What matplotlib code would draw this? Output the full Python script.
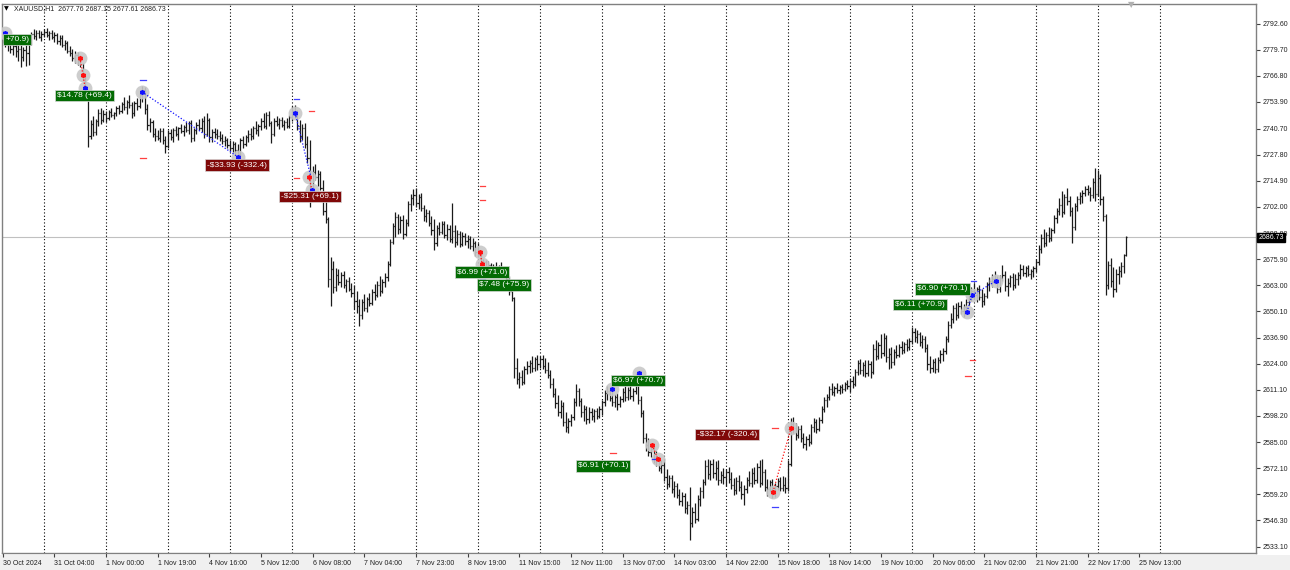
import numpy as np
import matplotlib
matplotlib.use("Agg")
import matplotlib.pyplot as plt
from matplotlib.transforms import blended_transform_factory

plt.rcParams['font.family'] = ['Liberation Sans', 'DejaVu Sans']

# XAUUSD H1 bars, one row per trading day
opens = [
    2787, 2785, 2782.5, 2784, 2780, 2781.5, 2779, 2780, 2776, 2779.5, 2778, 2783, 2787.5, 2786.5, 2788, 2786,
    2787.5, 2788.5, 2787, 2788, 2786, 2787, 2784, 2785.5, 2782, 2783, 2779, 2778, 2775.5, 2777, 2774, 2772.5, 2766.5, 2759.5, 2737, 2743, 2739, 2744.5, 2748.5, 2745,
    2748, 2746, 2749, 2747.5, 2748.5, 2751, 2749.5, 2753, 2751.5, 2754, 2752.5, 2748.5, 2753.5, 2752, 2757.5, 2760, 2750.5, 2742.5, 2744, 2738, 2737, 2736, 2739.5, 2735,
    2732, 2738.5, 2736.5, 2740, 2738, 2741, 2739.5, 2741.5, 2740, 2743.5, 2736, 2740, 2742.5, 2741, 2744.5, 2738, 2745, 2736.5, 2739, 2738, 2737, 2736, 2734.5, 2735,
    2732.5, 2731, 2733, 2730, 2728, 2735, 2733, 2736.5, 2738, 2737, 2741, 2740, 2742, 2744.5, 2742, 2747.5, 2743.5, 2738, 2744.5, 2743, 2745, 2742.5, 2744, 2742,
    2746.5, 2749.5, 2748, 2742, 2737, 2741, 2733, 2726, 2712, 2719, 2716.5, 2718, 2711, 2700, 2696, 2666, 2671, 2662, 2668, 2664.5, 2668, 2663, 2665, 2661,
    2659, 2655, 2652.5, 2648, 2654.5, 2651.5, 2656, 2654, 2659.5, 2658, 2663, 2660, 2664.5, 2667, 2673.5, 2684.5, 2692.5, 2697, 2691, 2695.5, 2688.5, 2694, 2703.5, 2706,
    2707.5, 2704, 2706.5, 2701.5, 2697.5, 2699, 2694, 2690.5, 2684, 2691.5, 2689.5, 2693.5, 2688, 2691, 2686, 2690, 2684.5, 2688.5, 2683.5, 2687.5, 2685, 2686, 2682.5, 2684,
    2679.5, 2678, 2673.5, 2674.5, 2671, 2673, 2669.5, 2672, 2670, 2671.5, 2670.5, 2668, 2666, 2660, 2656.5, 2622, 2616.5, 2617.5, 2615, 2621.5, 2623, 2624.5, 2622, 2626.5,
    2624, 2626.5, 2623, 2621, 2618.5, 2614, 2609, 2604.5, 2600, 2603, 2595, 2592.5, 2595.5, 2597.5, 2605, 2610.5, 2605.5, 2600, 2601.5, 2596.5, 2600, 2598, 2600.5, 2598,
    2601.5, 2605, 2609.5, 2610.5, 2607, 2605, 2607.5, 2604, 2606.5, 2610, 2607.5, 2611, 2608, 2610.5, 2614, 2606, 2599.5, 2587, 2583.5, 2580, 2581.5, 2577, 2575.5, 2572.5,
    2574, 2568, 2564.5, 2567.5, 2562, 2563.5, 2559, 2556, 2558.5, 2552.5, 2554, 2545, 2550.5, 2547, 2557, 2561, 2565.5, 2573.5, 2569.5, 2574.5, 2570, 2572.5, 2566.5, 2569,
    2568, 2570.5, 2567, 2564, 2561.5, 2566, 2563, 2559.5, 2562, 2566.5, 2565, 2570, 2566.5, 2573, 2565, 2570.5, 2563, 2562, 2565.5, 2559.5, 2563.5, 2566, 2562.5, 2564,
    2562.5, 2574.5, 2594, 2592, 2588.5, 2591.5, 2587, 2584, 2586.5, 2585, 2592.5, 2595, 2591.5, 2596, 2601.5, 2606, 2607.5, 2611.5, 2610, 2612, 2611, 2612.5, 2611.5, 2614,
    2613, 2615.5, 2614, 2620, 2624.5, 2621, 2623.5, 2619.5, 2624, 2620, 2631.5, 2628, 2633.5, 2629.5, 2637, 2627.5, 2629, 2625, 2630, 2628.5, 2632.5, 2631, 2634, 2632.5,
    2635.5, 2640, 2637.5, 2639, 2635, 2636.5, 2632, 2624, 2622, 2625, 2621.5, 2626, 2629, 2630.5, 2636.5, 2643, 2646, 2651.5, 2648, 2652.5, 2650, 2652, 2654.5, 2658,
    2660, 2658, 2661, 2657, 2655, 2657.5, 2663.5, 2665, 2666, 2664.5, 2661, 2666.5, 2668, 2662.5, 2664, 2667, 2663, 2666, 2668, 2671, 2669, 2671.5, 2668.5, 2670,
    2671.5, 2674.5, 2681, 2686.5, 2684, 2688, 2686.5, 2690.5, 2696.5, 2700, 2703, 2699.5, 2706.5, 2705, 2700, 2692, 2702.5, 2705.5, 2707, 2708.5, 2710.5, 2709, 2707.5, 2714,
    2708, 2716, 2705.5, 2697.5, 2663, 2673, 2665, 2661, 2668.5, 2670, 2672.5, 2677.76,
]
highs = [
    2789.5, 2787, 2786, 2785, 2783, 2783.5, 2782, 2782, 2781, 2782, 2784, 2788.5, 2790, 2789.5, 2789.8, 2789,
    2790, 2790.5, 2789, 2789.5, 2788.5, 2788, 2787, 2787, 2784.5, 2784, 2781.5, 2780, 2779, 2778.5, 2777, 2773, 2768, 2760, 2745, 2747, 2745.5, 2750.5, 2751, 2750,
    2749.5, 2750, 2751, 2749, 2752, 2752.5, 2754, 2756.5, 2755, 2757.5, 2754, 2754.5, 2756, 2758.5, 2762, 2761.5, 2753, 2746, 2745, 2741, 2740, 2741, 2741, 2737,
    2740, 2740.5, 2741, 2742, 2741.5, 2743, 2742.5, 2744, 2744.5, 2745, 2741, 2744, 2745.5, 2746, 2747, 2748.5, 2746, 2740.5, 2741, 2740.5, 2739.5, 2738, 2737, 2736,
    2735, 2734.5, 2734, 2733, 2736, 2737, 2737.5, 2740, 2741, 2742, 2744.5, 2743, 2746, 2748.5, 2749, 2749.5, 2744.5, 2746, 2747, 2746, 2746.5, 2745, 2746, 2747.5,
    2752, 2752.5, 2750, 2745, 2743, 2743.5, 2737, 2735, 2722, 2723, 2720, 2719.5, 2715, 2705, 2697, 2677, 2675, 2671.5, 2671, 2669.5, 2670, 2666, 2667, 2664,
    2663, 2660, 2656, 2656, 2658.5, 2657, 2659, 2661, 2663.5, 2665, 2667.5, 2666, 2669, 2675, 2686, 2694, 2699.5, 2698.5, 2697.5, 2698, 2696, 2705, 2708, 2710.5,
    2711, 2708, 2708.5, 2703, 2701, 2700.5, 2697.5, 2696, 2693, 2694.5, 2695, 2695, 2693.5, 2693, 2704, 2693, 2690.5, 2690, 2689.5, 2689, 2688, 2687.5, 2686.5, 2685,
    2684, 2680, 2676, 2675.5, 2675, 2674, 2673.5, 2674.5, 2673, 2674.5, 2672, 2671, 2667.5, 2662, 2657, 2627, 2620, 2621, 2623, 2625.5, 2626, 2628, 2627.5, 2628.5,
    2628, 2628.5, 2627, 2625, 2621, 2617, 2612, 2608.5, 2606, 2605, 2600, 2597, 2599, 2607, 2614, 2612, 2607, 2603.5, 2603, 2602.5, 2602, 2601.5, 2602, 2603,
    2606, 2611, 2613, 2612.5, 2611, 2609, 2609.5, 2608, 2612, 2613, 2612.5, 2614, 2612, 2619.5, 2616, 2608, 2601, 2589.5, 2587, 2584, 2583, 2580.5, 2578, 2576,
    2576.5, 2572, 2569, 2569, 2566, 2565, 2562, 2560.5, 2560, 2556, 2563, 2553, 2555, 2559, 2563, 2567, 2576, 2576.5, 2576, 2576.5, 2575.5, 2576, 2571, 2572.5,
    2572, 2573, 2570.5, 2567.5, 2568, 2569, 2566, 2564, 2568, 2571, 2572.5, 2573, 2575, 2576, 2576.5, 2572, 2567, 2566.5, 2567, 2565, 2567.5, 2568, 2568.5, 2568,
    2576, 2597, 2597.5, 2594.5, 2593, 2593.5, 2589.5, 2588, 2589, 2594, 2597, 2596.5, 2597.5, 2603, 2607.5, 2609, 2613, 2614.5, 2613, 2614.5, 2613.5, 2614, 2615, 2616,
    2617, 2618, 2621.5, 2626, 2626.5, 2625, 2626, 2626, 2625.5, 2634, 2636, 2635, 2639, 2639.5, 2638.5, 2632, 2632.5, 2631.5, 2633.5, 2634, 2635.5, 2635, 2636.5, 2637,
    2642, 2641.5, 2640.5, 2640, 2638.5, 2638, 2634, 2628, 2626.5, 2627, 2627.5, 2631, 2632, 2638, 2645, 2649, 2653, 2654, 2654.5, 2655, 2653.5, 2656, 2660, 2662,
    2664, 2662, 2663, 2661, 2659, 2664.5, 2667, 2668.5, 2670, 2667.5, 2668, 2673, 2670, 2666.5, 2668, 2669, 2668.5, 2669.5, 2673.5, 2673, 2672.5, 2673, 2671, 2672.5,
    2676, 2683, 2688.5, 2691, 2689.5, 2692, 2691.5, 2698, 2701.5, 2706, 2709.5, 2708, 2711, 2707, 2702, 2704, 2707, 2709, 2710, 2712, 2712.5, 2711.5, 2716, 2721,
    2720, 2718, 2707, 2698.5, 2675, 2676.5, 2672, 2671, 2672.5, 2674.5, 2678.5, 2687.15,
]
lows = [
    2783, 2781, 2779, 2778, 2777, 2776, 2774, 2771, 2774, 2771.5, 2772, 2782, 2785, 2784.5, 2785.5, 2784,
    2786, 2786, 2784.5, 2785, 2783.5, 2782.5, 2782, 2781, 2779.5, 2778, 2776.5, 2774, 2773, 2772, 2771, 2765, 2758, 2731.5, 2735.5, 2737, 2737.5, 2742, 2743, 2744,
    2744, 2745, 2746.5, 2745.5, 2747, 2748, 2748.5, 2750, 2748, 2751, 2746, 2747, 2750, 2751, 2754, 2748, 2740, 2739, 2736.5, 2734.5, 2735, 2734, 2733, 2728.5,
    2731, 2735, 2734, 2737, 2735, 2738.5, 2737, 2739, 2738, 2734, 2734.5, 2738, 2740, 2739, 2736, 2737, 2734, 2734, 2736, 2735.5, 2734.5, 2733, 2732, 2731,
    2729.5, 2729, 2728, 2726.5, 2727, 2731, 2732, 2734, 2735, 2735.5, 2738, 2737, 2740, 2741, 2740.5, 2742, 2733.5, 2737, 2742, 2740.5, 2741.5, 2740, 2741, 2741,
    2744.5, 2746, 2740, 2734, 2735, 2731, 2723.5, 2702, 2710, 2715, 2712, 2710, 2698, 2694, 2662, 2652.5, 2659, 2660, 2663, 2662, 2661.5, 2659.5, 2660, 2657,
    2651, 2649, 2642.5, 2646, 2650, 2649.5, 2652.5, 2653, 2655.5, 2657, 2657.5, 2659, 2662, 2665, 2672.5, 2683.5, 2687, 2688.5, 2689, 2686, 2687.5, 2692.5, 2700, 2703,
    2702, 2701, 2700, 2695, 2694.5, 2692.5, 2688, 2680.5, 2682.5, 2688, 2688.5, 2686.5, 2685.5, 2684.5, 2684, 2682, 2683, 2682, 2682.5, 2683, 2681.5, 2681, 2680, 2677.5,
    2677, 2672, 2670.5, 2668.5, 2669.5, 2667, 2668, 2669, 2667.5, 2669, 2667, 2664.5, 2658, 2655, 2617, 2614, 2612, 2613.5, 2614, 2619, 2619.5, 2620, 2620.5, 2621,
    2622, 2621.5, 2619.5, 2617, 2612, 2607.5, 2602, 2598, 2597, 2593, 2590, 2589.5, 2593, 2596, 2603, 2603, 2597.5, 2595.5, 2594, 2594.5, 2596, 2595, 2596.5, 2597,
    2598.5, 2603, 2606, 2605.5, 2603, 2602.5, 2601, 2602.5, 2605, 2605.5, 2606, 2606.5, 2605.5, 2609, 2604, 2597.5, 2584.5, 2580.5, 2578, 2577.5, 2575, 2573.5, 2571, 2570,
    2566, 2562, 2563, 2560, 2558, 2557.5, 2554, 2553.5, 2550, 2549.5, 2536.5, 2543, 2545, 2546, 2553.5, 2557.5, 2564, 2567, 2566.5, 2567.5, 2566.5, 2564, 2565, 2564.5,
    2563.5, 2565, 2562, 2559, 2559.5, 2561, 2557, 2554, 2560, 2563.5, 2563, 2564.5, 2565, 2563, 2564, 2561, 2558.5, 2560.5, 2557.5, 2558, 2561.5, 2561, 2561, 2560,
    2561, 2573.5, 2589.5, 2586, 2587, 2585, 2582, 2581, 2583, 2584, 2590, 2589.5, 2590.5, 2594.5, 2600, 2602.5, 2606, 2608.5, 2608, 2609.5, 2609, 2609.5, 2610.5, 2611.5,
    2610, 2612, 2613, 2618.5, 2619, 2618, 2617.5, 2618, 2617, 2619, 2626, 2626.5, 2627, 2628, 2625, 2621.5, 2622, 2623.5, 2627, 2627.5, 2629, 2629.5, 2630.5, 2631,
    2634, 2635, 2634.5, 2633, 2632, 2630, 2621, 2619.5, 2620, 2619.5, 2620, 2624.5, 2625.5, 2629, 2635, 2641.5, 2644, 2645.5, 2646.5, 2648.5, 2647, 2649, 2653, 2655,
    2656, 2654.5, 2655.5, 2652, 2653, 2656.5, 2660, 2662, 2663.5, 2659, 2659.5, 2665, 2660, 2657.5, 2662, 2660.5, 2661.5, 2663, 2666, 2667.5, 2667, 2667.5, 2666, 2667,
    2669.5, 2673, 2679, 2682, 2682.5, 2684.5, 2685, 2689, 2694, 2698, 2697, 2698.5, 2703, 2697.5, 2684, 2690.5, 2700, 2703.5, 2704, 2707, 2707.5, 2705, 2706, 2705,
    2707, 2703, 2695, 2658, 2661, 2662, 2657, 2659.5, 2663.5, 2667, 2669, 2677.61,
]
closes = [
    2785, 2782.5, 2784, 2780, 2781.5, 2779, 2780, 2776, 2779.5, 2778, 2783, 2787.5, 2786.5, 2788, 2786, 2787.5,
    2788.5, 2787, 2788, 2786, 2787, 2784, 2785.5, 2782, 2783, 2779, 2778, 2775.5, 2777, 2774, 2772.5, 2766.5, 2759.5, 2737, 2743, 2739, 2744.5, 2748.5, 2745, 2748,
    2746, 2749, 2747.5, 2748.5, 2751, 2749.5, 2753, 2751.5, 2754, 2752.5, 2748.5, 2753.5, 2752, 2757.5, 2760, 2750.5, 2742.5, 2744, 2738, 2737, 2736, 2739.5, 2735, 2732,
    2738.5, 2736.5, 2740, 2738, 2741, 2739.5, 2741.5, 2740, 2743.5, 2736, 2740, 2742.5, 2741, 2744.5, 2738, 2745, 2736.5, 2739, 2738, 2737, 2736, 2734.5, 2735, 2732.5,
    2731, 2733, 2730, 2728, 2735, 2733, 2736.5, 2738, 2737, 2741, 2740, 2742, 2744.5, 2742, 2747.5, 2743.5, 2738, 2744.5, 2743, 2745, 2742.5, 2744, 2742, 2746.5,
    2749.5, 2748, 2742, 2737, 2741, 2733, 2726, 2712, 2719, 2716.5, 2718, 2711, 2700, 2696, 2666, 2671, 2662, 2668, 2664.5, 2668, 2663, 2665, 2661, 2659,
    2655, 2652.5, 2648, 2654.5, 2651.5, 2656, 2654, 2659.5, 2658, 2663, 2660, 2664.5, 2667, 2673.5, 2684.5, 2692.5, 2697, 2691, 2695.5, 2688.5, 2694, 2703.5, 2706, 2707.5,
    2704, 2706.5, 2701.5, 2697.5, 2699, 2694, 2690.5, 2684, 2691.5, 2689.5, 2693.5, 2688, 2691, 2686, 2690, 2684.5, 2688.5, 2683.5, 2687.5, 2685, 2686, 2682.5, 2684, 2679.5,
    2678, 2673.5, 2674.5, 2671, 2673, 2669.5, 2672, 2670, 2671.5, 2670.5, 2668, 2666, 2660, 2656.5, 2622, 2616.5, 2617.5, 2615, 2621.5, 2623, 2624.5, 2622, 2626.5, 2624,
    2626.5, 2623, 2621, 2618.5, 2614, 2609, 2604.5, 2600, 2603, 2595, 2592.5, 2595.5, 2597.5, 2605, 2610.5, 2605.5, 2600, 2601.5, 2596.5, 2600, 2598, 2600.5, 2598, 2601.5,
    2605, 2609.5, 2610.5, 2607, 2605, 2607.5, 2604, 2606.5, 2610, 2607.5, 2611, 2608, 2610.5, 2614, 2606, 2599.5, 2587, 2583.5, 2580, 2581.5, 2577, 2575.5, 2572.5, 2574,
    2568, 2564.5, 2567.5, 2562, 2563.5, 2559, 2556, 2558.5, 2552.5, 2554, 2545, 2550.5, 2547, 2557, 2561, 2565.5, 2573.5, 2569.5, 2574.5, 2570, 2572.5, 2566.5, 2569, 2568,
    2570.5, 2567, 2564, 2561.5, 2566, 2563, 2559.5, 2562, 2566.5, 2565, 2570, 2566.5, 2573, 2565, 2570.5, 2563, 2562, 2565.5, 2559.5, 2563.5, 2566, 2562.5, 2564, 2562.5,
    2574.5, 2594, 2592, 2588.5, 2591.5, 2587, 2584, 2586.5, 2585, 2592.5, 2595, 2591.5, 2596, 2601.5, 2606, 2607.5, 2611.5, 2610, 2612, 2611, 2612.5, 2611.5, 2614, 2613,
    2615.5, 2614, 2620, 2624.5, 2621, 2623.5, 2619.5, 2624, 2620, 2631.5, 2628, 2633.5, 2629.5, 2637, 2627.5, 2629, 2625, 2630, 2628.5, 2632.5, 2631, 2634, 2632.5, 2635.5,
    2640, 2637.5, 2639, 2635, 2636.5, 2632, 2624, 2622, 2625, 2621.5, 2626, 2629, 2630.5, 2636.5, 2643, 2646, 2651.5, 2648, 2652.5, 2650, 2652, 2654.5, 2658, 2660,
    2658, 2661, 2657, 2655, 2657.5, 2663.5, 2665, 2666, 2664.5, 2661, 2666.5, 2668, 2662.5, 2664, 2667, 2663, 2666, 2668, 2671, 2669, 2671.5, 2668.5, 2670, 2671.5,
    2674.5, 2681, 2686.5, 2684, 2688, 2686.5, 2690.5, 2696.5, 2700, 2703, 2699.5, 2706.5, 2705, 2700, 2692, 2702.5, 2705.5, 2707, 2708.5, 2710.5, 2709, 2707.5, 2714, 2708,
    2716, 2705.5, 2697.5, 2663, 2673, 2665, 2661, 2668.5, 2670, 2672.5, 2677.76, 2686.73,
]

time_labels = ["30 Oct 2024", "31 Oct 04:00", "1 Nov 00:00", "1 Nov 19:00", "4 Nov 16:00",
               "5 Nov 12:00", "6 Nov 08:00", "7 Nov 04:00", "7 Nov 23:00", "8 Nov 19:00",
               "11 Nov 15:00", "12 Nov 11:00", "13 Nov 07:00", "14 Nov 03:00", "14 Nov 22:00",
               "15 Nov 18:00", "18 Nov 14:00", "19 Nov 10:00", "20 Nov 06:00", "21 Nov 02:00",
               "21 Nov 21:00", "22 Nov 17:00", "25 Nov 13:00"]
time_label_bars = [0, 20, 40, 60, 80, 100, 120, 140, 160, 180, 200, 220, 240, 260, 280,
                   300, 320, 340, 360, 380, 400, 420, 440]
price_ticks = [2792.60, 2779.70, 2766.80, 2753.90, 2740.70, 2727.80, 2714.90, 2702.00,
               2688.80, 2675.90, 2663.00, 2650.10, 2636.90, 2624.00, 2611.10, 2598.20,
               2585.00, 2572.10, 2559.20, 2546.30, 2533.10]
day_start_bars = [16, 40, 64, 88, 112, 136, 160, 184, 208, 232, 256, 280, 304, 328,
                  352, 376, 400, 424, 448]

# trade arrows (bar index, price, arrow colour)
arrow_bar = [0.9, 29.9, 31.1, 31.9, 53.9, 91.1, 113.2, 118.6, 119.7, 184.8, 185.6,
             235.9, 246.3, 251.4, 253.7, 298.2, 305.2, 373.3, 375.3, 384.6]
arrow_price = [2788.1, 2775.7, 2767.3, 2760.8, 2758.9, 2726.6, 2748.4, 2716.7, 2710.2,
               2679.5, 2673.5, 2611.5, 2619.4, 2583.7, 2576.7, 2560.4, 2592.1, 2649.7,
               2658.1, 2665.1]
arrow_col = ['b', 'r', 'r', 'b', 'b', 'b', 'b', 'r', 'b', 'r', 'r',
             'b', 'b', 'r', 'r', 'r', 'r', 'b', 'b', 'b']

# dotted trade lines
trade_lines = [
    ([29.9, 31.1, 31.9], [2775.7, 2767.3, 2760.8], 'r'),
    ([53.9, 91.1], [2758.9, 2726.6], 'b'),
    ([113.2, 119.4], [2748.4, 2716.2], 'b'),
    ([118.6, 119.7], [2716.7, 2710.2], 'r'),
    ([184.8, 185.6], [2679.5, 2673.5], 'r'),
    ([251.4, 253.7], [2583.7, 2576.7], 'r'),
    ([298.2, 305.2], [2560.4, 2592.1], 'r'),
    ([373.3, 375.3], [2649.7, 2658.1], 'b'),
    ([375.3, 384.6], [2658.1, 2665.1], 'b'),
]

# stop / target dashes
level_bar = [54.3, 113.9, 299.0, 375.7, 185.6, 252.2,
             54.3, 119.4, 113.9, 185.6, 185.6, 236.3, 299.0, 375.3, 373.7]
level_price = [2764.8, 2755.4, 2552.9, 2665.1, 2666.1, 2576.7,
               2726.1, 2749.4, 2716.2, 2712.2, 2705.3, 2579.7, 2592.1, 2625.9, 2617.9]
level_col = ['b', 'b', 'b', 'b', 'b', 'b',
             'r', 'r', 'r', 'r', 'r', 'r', 'r', 'r', 'r']

# profit labels
label_text = ["+70.9)", "$14.78 (+69.4)", "-$33.93 (-332.4)", "-$25.31 (+69.1)",
              "$6.99 (+71.0)", "$7.48 (+75.9)", "$6.97 (+70.7)", "$6.91 (+70.1)",
              "-$32.17 (-320.4)", "$6.90 (+70.1)", "$6.11 (+70.9)"]
label_bar = [0.2, 20.2, 78.3, 107.0, 175.1, 183.6, 235.5, 221.9, 268.0, 353.2, 344.7]
label_price = [2784.7, 2756.9, 2722.6, 2706.8, 2669.5, 2663.1, 2615.5, 2573.3,
               2588.7, 2661.1, 2653.2]
label_win = [True, True, False, False, True, True, True, True, False, True, True]

COLS = {'b': '#1010ff', 'r': '#ff1010'}

W, H = 1290, 570
fig = plt.figure(figsize=(W / 100, H / 100), dpi=100)
fig.patch.set_facecolor('white')
fig.add_artist(plt.Rectangle((0, 0), 1, 15 / H, transform=fig.transFigure,
                             facecolor='#f0f0f0', edgecolor='none', zorder=-10))
ax = fig.add_axes([2 / W, 17 / H, 1254 / W, 549 / H])

idx = np.arange(len(closes))
bar_col = '#1a1a1a'
ax.vlines(idx, lows, highs, color=bar_col, lw=0.9, zorder=2)
ax.hlines(opens, idx - 0.45, idx, color=bar_col, lw=0.9, zorder=2)
ax.hlines(closes, idx, idx + 0.45, color=bar_col, lw=0.9, zorder=2)

for d in day_start_bars:
    ax.axvline(d, color='black', lw=0.8, linestyle=(0, (1, 2)), zorder=1)

ax.axhline(closes[-1], color='#c0c0c0', lw=0.8, zorder=1)

# trades
ax.scatter(arrow_bar, arrow_price, s=100, color='#c8c8c8', alpha=0.9, lw=0, zorder=4)
for xs, ys, c in trade_lines:
    ax.plot(xs, ys, color=COLS[c], lw=0.9, linestyle=(0, (1, 1.5)), zorder=5)
for x, y, c in zip(arrow_bar, arrow_price, arrow_col):
    ax.plot(x, y, marker=(6, 2, 0), ms=3.5, mew=1.1, color=COLS[c], zorder=6)
for x, y, c in zip(level_bar, level_price, level_col):
    ax.plot([x - 1, x + 1], [y, y], color=COLS[c], lw=0.9, alpha=0.8, zorder=5)

for t, x, y, win in zip(label_text, label_bar, label_price, label_win):
    ax.text(x + 0.8, y, t, fontsize=6, color='white', ha='left', va='center',
            bbox=dict(boxstyle='square,pad=0.25', facecolor='#036b03' if win else '#800808',
                      edgecolor='#d8d8d8', lw=0.5), zorder=8)

ax.set_xlim(-0.27, 485.2)
ax.set_ylim(2530.1, 2802.5)
ax.yaxis.tick_right()
ax.set_yticks(price_ticks)
ax.set_yticklabels([f"{v:.2f}" for v in price_ticks])
ax.set_xticks(time_label_bars)
ax.set_xticklabels(time_labels, ha='left')
ax.tick_params(axis='y', direction='out', length=3, width=0.8, colors='#404040',
               labelcolor='#202020', labelsize=5, pad=2)
ax.tick_params(axis='x', direction='out', length=3, width=0.8, colors='#404040',
               labelcolor='#202020', labelsize=5, pad=2)
for s in ax.spines.values():
    s.set_color('#808080')
    s.set_linewidth(1)

# current price tag (covers the 2688.80 label like the terminal does)
ax.text(1.002, closes[-1], f"{closes[-1]:.2f}",
        transform=blended_transform_factory(ax.transAxes, ax.transData),
        fontsize=5, color='white', ha='left', va='center', clip_on=False, zorder=10,
        bbox=dict(boxstyle='square,pad=0.15', facecolor='black', edgecolor='black'))

# header
fig.text(4 / W, 1 - 9 / H, '\u25bc', family='DejaVu Sans', fontsize=4.5, va='center')
fig.text(14 / W, 1 - 9 / H,
         f"XAUUSD,H1  {opens[-1]:.2f} {highs[-1]:.2f} {lows[-1]:.2f} {closes[-1]:.2f}",
         fontsize=5, va='center', color='#202020')
fig.text(1131 / W, 1.0, '\u25bc', family='DejaVu Sans', fontsize=6, color='#b0b0b0',
         ha='center', va='top')

fig.savefig('out.png', dpi=100)
